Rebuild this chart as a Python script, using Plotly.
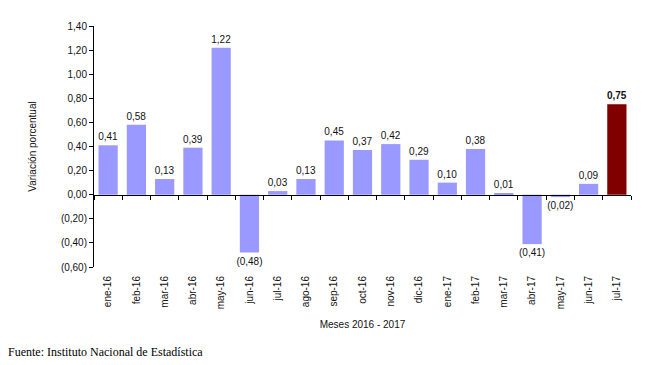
import plotly.graph_objects as go

months = ["ene-16", "feb-16", "mar-16", "abr-16", "may-16", "jun-16", "jul-16", "ago-16",
          "sep-16", "oct-16", "nov-16", "dic-16", "ene-17", "feb-17", "mar-17", "abr-17",
          "may-17", "jun-17", "jul-17"]
values = [0.41, 0.58, 0.13, 0.39, 1.22, -0.48, 0.03, 0.13, 0.45, 0.37, 0.42, 0.29,
          0.10, 0.38, 0.01, -0.41, -0.02, 0.09, 0.75]
ytick_vals = [-0.6, -0.4, -0.2, 0, 0.2, 0.4, 0.6, 0.8, 1.0, 1.2, 1.4]


def fmt(v):
    s = f"{abs(v):.2f}".replace(".", ",")
    return f"({s})" if v < 0 else s


ytick_text = [fmt(v) for v in ytick_vals]
bar_text = [fmt(v) for v in values]
bar_text[-1] = "<b>" + bar_text[-1] + "</b>"
colors = ["#9999FF"] * (len(values) - 1) + ["#800000"]

ymin, ymax = -0.6, 1.4
zero_pos = (0 - ymin) / (ymax - ymin)
xrange = [-0.5, len(months) - 0.5]

fig = go.Figure()
fig.add_trace(go.Bar(
    x=months, y=values, marker=dict(color=colors, line=dict(width=0)),
    text=bar_text, textposition="outside", cliponaxis=False, constraintext="none",
    textfont=dict(family="Liberation Sans, Arial", size=10, color="#111111"),
    width=0.68, showlegend=False, hoverinfo="skip", xaxis="x", yaxis="y",
))
fig.add_trace(go.Scatter(x=months, y=[0] * len(months), mode="lines",
                         line=dict(width=0), opacity=0, showlegend=False, hoverinfo="skip",
                         xaxis="x2", yaxis="y"))

fig.update_layout(
    width=651, height=365, autosize=False,
    margin=dict(l=94, r=20, t=26, b=98),
    paper_bgcolor="white", plot_bgcolor="white",
    font=dict(family="Liberation Sans, Arial", size=10, color="#111111"),
    xaxis=dict(type="category", categoryorder="array", categoryarray=months, range=xrange,
               showline=False, ticks="", tickangle=-90, showgrid=False, automargin=False,
               tickfont=dict(size=10, color="#111111"), ticklabelstandoff=6,
               title=dict(text="Meses 2016 - 2017", font=dict(size=10), standoff=12)),
    xaxis2=dict(type="category", categoryorder="array", categoryarray=months, range=xrange,
                overlaying="x", anchor="free", position=zero_pos,
                showline=True, linecolor="#000000", linewidth=1, automargin=False,
                ticks="outside", tickson="boundaries", ticklen=4, tickcolor="#000000",
                showticklabels=False, showgrid=False, zeroline=False),
    yaxis=dict(range=[ymin, ymax], tickvals=ytick_vals, ticktext=ytick_text,
               showline=True, linecolor="#000000", linewidth=1, automargin=False,
               ticks="outside", ticklen=4, tickcolor="#000000",
               showgrid=False, zeroline=False,
               tickfont=dict(size=10, color="#111111"),
               title=dict(text="Variación porcentual", font=dict(size=10), standoff=22)),
    bargap=0.32,
)
fig.add_annotation(text="Fuente: Instituto Nacional de Estadística", xref="paper", yref="paper",
                   x=-88 / 537, y=-85 / 241, xanchor="left", yanchor="middle", showarrow=False,
                   font=dict(family="Liberation Serif", size=12, color="#000000"))

fig.write_html("out.html", config={"responsive": False, "displayModeBar": False},
               post_script="document.body.style.margin='0';document.body.style.overflow='hidden';")
